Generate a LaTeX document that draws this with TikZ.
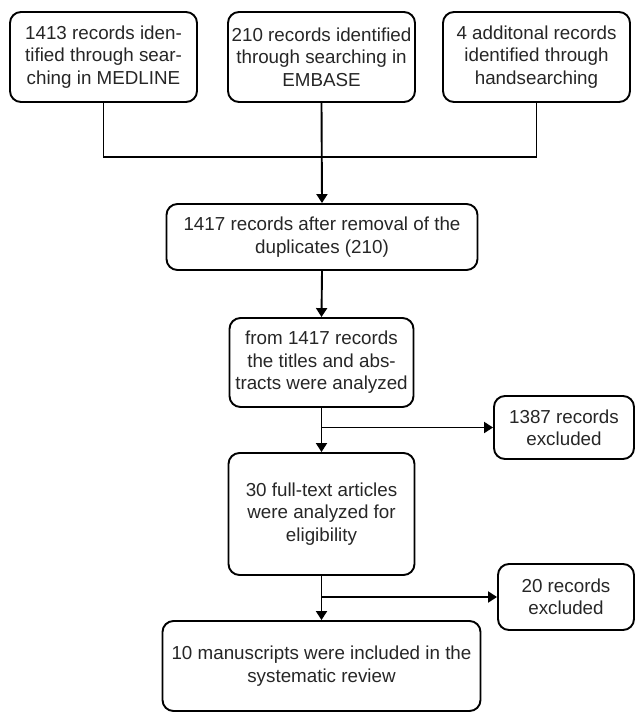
\documentclass[tikz,border=0pt]{standalone}
\usepackage{fontspec}
\setmainfont{Liberation Sans}
\usetikzlibrary{arrows.meta}
\begin{document}
\begin{tikzpicture}[x=1pt,y=-1pt,
  box/.style={draw,line width=1.9pt,rounded corners=11pt,align=center,inner sep=0pt,
    text=black!85,font=\fontsize{18.8}{22.4}\selectfont},
  link/.style={line width=1.9pt},
  flow/.style={line width=1.9pt,-{Triangle[length=9pt,width=11pt]}}]
\useasboundingbox (0,0) rectangle (636,712);
\node[box,minimum width=187pt,minimum height=90pt] (medline) at (103.5,57) {1413 records iden-\\tified through sear-\\ching in MEDLINE};
\node[box,minimum width=187pt,minimum height=90pt] (embase) at (321.5,57) {210 records identified\\through searching in\\EMBASE};
\node[box,minimum width=187pt,minimum height=90pt] (hand) at (536.5,57) {4 additonal records\\identified through\\handsearching};
\coordinate (join) at (321.5,157);
\node[box,minimum width=311pt,minimum height=66pt] (dup) at (322,237) {1417 records after removal of the\\duplicates (210)};
\node[box,minimum width=184pt,minimum height=89pt] (titles) at (321.5,362.5) {from 1417 records\\the titles and abs-\\tracts were analyzed};
\node[box,minimum width=140pt,minimum height=63pt] (excl1) at (564,427.5) {1387 records\\excluded};
\node[box,minimum width=186pt,minimum height=122pt] (full) at (321.5,514) {30 full-text articles\\were analyzed for\\eligibility};
\node[box,minimum width=136pt,minimum height=66pt] (excl2) at (566,597) {20 records\\excluded};
\node[box,minimum width=318pt,minimum height=90pt] (incl) at (321.5,666) {10 manuscripts were included in the\\systematic review};

\draw[link] (medline.south) |- (join) -| (hand.south);
\draw[flow] (embase.south) -- (dup.north);
\draw[flow] (dup.south) -- (titles.north);
\draw[flow] (titles.south) -- (full.north);
\draw[flow] (titles.south |- excl1.west) -- (excl1.west);
\draw[flow] (full.south) -- (incl.north);
\draw[flow] (full.south |- excl2.west) -- (excl2.west);
\end{tikzpicture}
\end{document}
